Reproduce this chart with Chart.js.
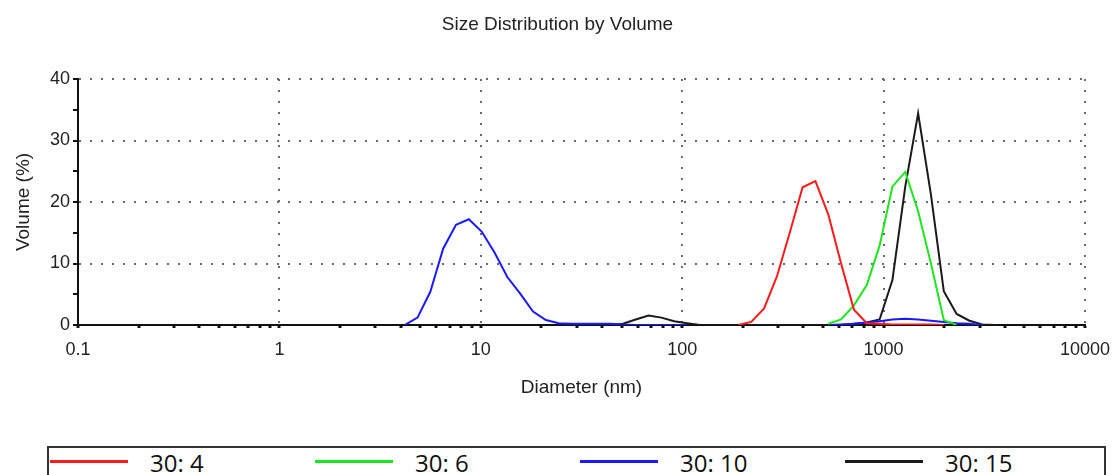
<!DOCTYPE html>
<html>
<head>
<meta charset="utf-8">
<script src="https://cdn.jsdelivr.net/npm/chart.js@4.4.0/dist/chart.umd.min.js"></script>
<style>
  html, body { margin:0; padding:0; background:#fff; width:1115px; height:475px; overflow:hidden; }
  #wrap { position:absolute; left:0; top:0; width:1115px; height:475px; }
  #legend { position:absolute; left:47px; top:446px; width:1059px; height:40px; border:2px solid #333;
            box-sizing:border-box; font-family:"Open Sans", sans-serif; background:#fff; }
  .item { position:absolute; top:0; height:36px; }
  .swatch { position:absolute; left:0; top:12px; width:78px; height:3px; }
  .label { position:absolute; left:100px; top:3px; font-size:24px; line-height:24px; color:#111; white-space:nowrap; }
</style>
</head>
<body>
<div id="wrap"><canvas id="c"></canvas></div>
<div id="legend"></div>
<script>
// ---------- data ----------
const n = null;
const diameters = [4.187, 4.849, 5.615, 6.503, 7.531, 8.721, 10.10, 11.70, 13.54, 15.69,
  18.17, 21.04, 24.36, 28.21, 32.67, 37.84, 43.82, 50.75, 58.77, 68.06,
  78.82, 91.28, 105.7, 122.4, 141.8, 164.2, 190.1, 220.2, 255.0, 295.3,
  342.0, 396.1, 458.7, 531.2, 615.1, 712.4, 825.0, 955.4, 1106, 1281,
  1484, 1718, 1990, 2305, 2669, 3091, 3580];

const seriesNames = ['30: 4', '30: 6', '30: 10', '30: 15'];

const vol_30_4 = [n,n,n,n,n,n,n,n,n,n, n,n,n,n,n,n,n,n,n,n, n,n,n,n,n,n,
  0, 0.5, 2.7, 7.9, 15.0, 22.4, 23.4, 18.0, 10.0, 2.5, 0.3, 0.2, 0.1, 0.1, 0.1, 0.1, 0,
  n,n,n,n];

const vol_30_6 = [n,n,n,n,n,n,n,n,n,n, n,n,n,n,n,n,n,n,n,n, n,n,n,n,n,n,n,n,n,n, n,n,n,
  0.2, 0.9, 3.2, 6.5, 12.9, 22.5, 24.9, 18.5, 10.0, 0.8, 0,
  n,n,n];

const vol_30_10 = [0, 1.2, 5.4, 12.4, 16.3, 17.2, 15.2, 11.8, 7.8, 5.1,
  2.2, 0.8, 0.3, 0.2, 0.2, 0.2, 0.2, 0.1, 0, 0, 0, 0, 0,
  n,n,n,n,n,n,n,n,n,n,
  0, 0.1, 0.2, 0.4, 0.6, 0.9, 1.0, 0.9, 0.7, 0.5, 0.3, 0.2, 0,
  n];

const vol_30_15 = [n,n,n,n,n,n,n,n,n,n, n,n,n,n,n,n,
  0, 0.2, 0.9, 1.55, 1.2, 0.6, 0.3, 0, 0, 0, 0, 0, 0, 0, 0, 0, 0, 0, 0,
  0.2, 0.4, 0.9, 7.3, 22.5, 34.4, 21.2, 5.5, 1.8, 0.7, 0.1, 0];

const seriesValues = [vol_30_4, vol_30_6, vol_30_10, vol_30_15];

const xDecades = [0.1, 1, 10, 100, 1000, 10000];
const xTickLabels = ['0.1', '1', '10', '100', '1000', '10000'];
const xMinorMultipliers = [1, 2, 3, 4, 5, 6, 7, 8, 9];
const yTickValues = [0, 5, 10, 15, 20, 25, 30, 35, 40];
const yLabelValues = [0, 10, 20, 30, 40];

// ---------- styles ----------
const seriesColors = ['#ff1a1a', '#1ee61e', '#1a1aff', '#1a1a1a'];
const FONT = 'Liberation Sans, Arial, sans-serif';
const DOT = '#6a6a6a';
const CLEAR = 'rgba(0,0,0,0)';

// ---------- build ----------
const xTickValues = [];
xDecades.slice(0, -1).forEach(d => xMinorMultipliers.forEach(m => xTickValues.push(d * m)));
xTickValues.push(xDecades[xDecades.length - 1]);

function decadeIndex(v) {
  for (let i = 0; i < xDecades.length; i++) {
    if (Math.abs(v - xDecades[i]) / xDecades[i] < 1e-6) return i;
  }
  return -1;
}

const datasets = seriesValues.map((vals, k) => ({
  label: seriesNames[k],
  data: diameters.map((d, i) => ({ x: d, y: vals[i] })),
  borderColor: seriesColors[k],
  backgroundColor: seriesColors[k],
  borderWidth: 2,
  pointRadius: 0,
  tension: 0,
  spanGaps: false,
  fill: false
}));

new Chart(document.getElementById('c'), {
  type: 'line',
  data: { datasets },
  options: {
    responsive: true,
    maintainAspectRatio: false,
    animation: false,
    layout: { padding: { left: 0, right: 0, top: 0, bottom: 73 } },
    plugins: {
      legend: { display: false },
      tooltip: { enabled: false },
      title: {
        display: true,
        text: 'Size Distribution by Volume',
        color: '#222',
        font: { family: FONT, size: 19, weight: 'normal' },
        padding: { top: 13.6, bottom: 42.6 }
      }
    },
    scales: {
      x: {
        type: 'logarithmic',
        min: 0.1, max: 10000,
        afterBuildTicks: s => { s.ticks = xTickValues.map(v => ({ value: v })); },
        afterFit: s => { s.height = 77; s.paddingRight = 30; s.paddingLeft = 0; },
        ticks: {
          autoSkip: false, maxRotation: 0, minRotation: 0,
          color: '#222', font: { family: FONT, size: 18 }, padding: 11,
          callback: v => { const i = decadeIndex(v); return i >= 0 ? xTickLabels[i] : ''; }
        },
        grid: {
          color: c => (c.tick && decadeIndex(c.tick.value) > 0) ? DOT : CLEAR,
          lineWidth: 2,
          tickColor: '#111', tickLength: 3, tickWidth: 3
        },
        border: { display: true, color: '#111', width: 2, dash: [2, 9] },
        title: {
          display: true, text: 'Diameter (nm)', color: '#222',
          font: { family: FONT, size: 19 }, padding: { top: 2.6, bottom: 2.6 }
        }
      },
      y: {
        min: 0, max: 40,
        afterBuildTicks: s => { s.ticks = yTickValues.map(v => ({ value: v })); },
        afterFit: s => { s.width = 78; },
        ticks: {
          autoSkip: false, color: '#222', font: { family: FONT, size: 18 }, padding: 3,
          callback: v => (yLabelValues.includes(v) ? String(v) : '')
        },
        grid: {
          color: c => (c.tick && c.tick.value !== 0 && yLabelValues.includes(c.tick.value)) ? DOT : CLEAR,
          lineWidth: 2,
          tickColor: '#111', tickLength: 5, tickWidth: 2
        },
        border: { display: true, color: '#111', width: 2, dash: [2, 9] },
        title: {
          display: true, text: 'Volume (%)', color: '#222',
          font: { family: FONT, size: 19 }, padding: { top: 12.6, bottom: 0 }
        }
      }
    }
  }
});

// ---------- HTML legend built from the series ----------
const legendStarts = [1, 266, 531, 796];
const legend = document.getElementById('legend');
seriesNames.forEach((name, k) => {
  const item = document.createElement('div');
  item.className = 'item';
  item.style.left = legendStarts[k] + 'px';
  const sw = document.createElement('div');
  sw.className = 'swatch';
  sw.style.background = seriesColors[k];
  const lb = document.createElement('div');
  lb.className = 'label';
  lb.textContent = name;
  item.appendChild(sw); item.appendChild(lb);
  legend.appendChild(item);
});
</script>
</body>
</html>
